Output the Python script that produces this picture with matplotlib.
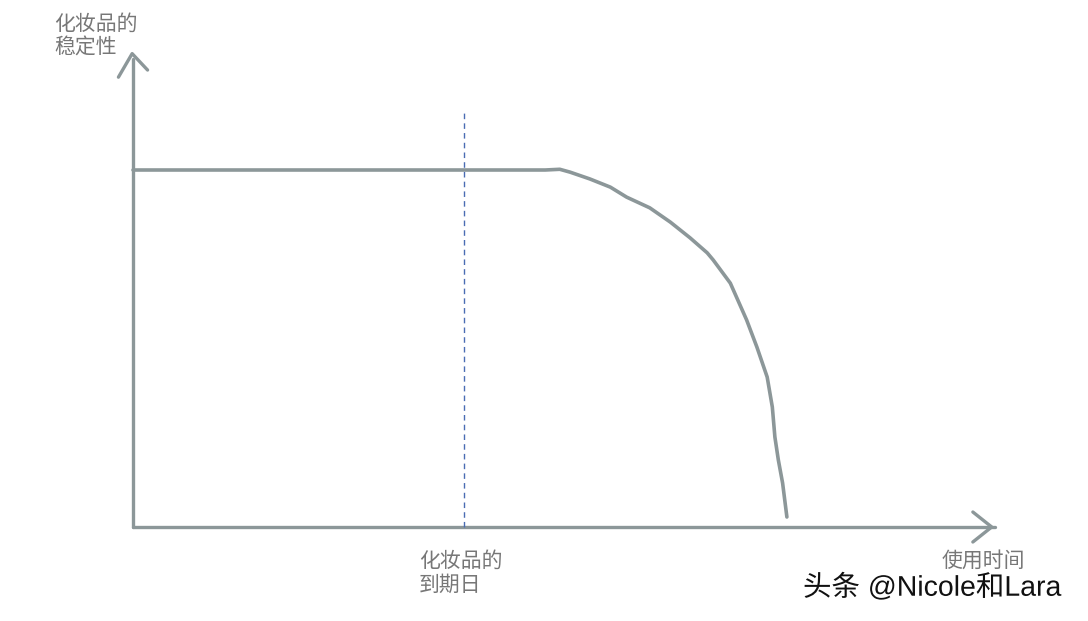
import matplotlib
matplotlib.use("Agg")
import matplotlib.pyplot as plt
import matplotlib.patheffects as pe

plt.rcParams['font.family'] = ['Noto Sans CJK SC', 'DejaVu Sans']

# Data (time in arbitrary units 0-100, stability in arbitrary units)
time_pts = [0, 48.1, 49.8, 51.0, 53.3, 55.7, 57.6, 60.3, 62.7, 65.0, 67.0, 67.7,
            69.7, 71.6, 72.8, 74.0, 74.6, 74.9, 75.3, 75.8, 76.3]
stab_pts = [100, 100, 100.2, 99.4, 97.5, 95.2, 92.4, 89.4, 85.4, 81.0, 76.8, 74.8,
            68.3, 58.0, 50.4, 42.0, 33.6, 25.2, 18.8, 12.3, 2.8]
expiry_time = 38.6
expiry_top = 116.8
x_axis_end = 100
y_axis_end = 131

y_label = "化妆品的\n稳定性"
x_label = "使用时间"
expiry_label = "化妆品的\n到期日"
watermark = "头条 @Nicole和Lara"

W, H = 1088, 621
fig = plt.figure(figsize=(W / 100, H / 100), dpi=100)
ax = fig.add_axes([0, 0, 1, 1])
ox, oy = 133, 527
sx, sy = 8.57, 3.57
ax.set_xlim((0 - ox) / sx, (W - ox) / sx)
ax.set_ylim((oy - H) / sy, (oy - 0) / sy)
ax.axis('off')

axis_col = '#8c9799'
# axes
ax.plot([0, x_axis_end * 1.006], [0, 0], color=axis_col, lw=2.4, solid_capstyle='round')
ax.plot([0, 0], [0, y_axis_end], color=axis_col, lw=2.4, solid_capstyle='round')
# arrowheads
ax.plot([x_axis_end - 2.0, x_axis_end + 0.2, x_axis_end - 2.0], [4.2, 0, -4.2],
        color=axis_col, lw=2.4, solid_capstyle='round', solid_joinstyle='round')
ax.plot([-1.7, -0.1, 1.7], [126, 132.6, 128], color=axis_col, lw=2.4,
        solid_capstyle='round', solid_joinstyle='round')

# curve
ax.plot(time_pts, stab_pts, color=axis_col, lw=2.6, solid_capstyle='round', solid_joinstyle='round')

# expiry dashed line
ax.plot([expiry_time, expiry_time], [0, expiry_top], color='#4a6cb3', lw=1.0,
        linestyle=(0, (4, 3)))

txt_col = '#777777'
fig.text(54 / W, 1 - 13 / H, y_label, ha='left', va='top', fontsize=15, color=txt_col,
         linespacing=1.1)
fig.text(419 / W, 1 - 550 / H, expiry_label, ha='left', va='top', fontsize=15, color=txt_col,
         linespacing=1.1)
fig.text(942 / W, 1 - 550 / H, x_label, ha='left', va='top', fontsize=15, color=txt_col)
fig.text(803 / W, 1 - 574 / H, watermark, ha='left', va='top', fontsize=20.5, color='#111111',
         family=['Liberation Sans', 'Noto Sans CJK SC'],
         path_effects=[pe.withStroke(linewidth=3, foreground='white')])

fig.savefig('out.png', dpi=100)
